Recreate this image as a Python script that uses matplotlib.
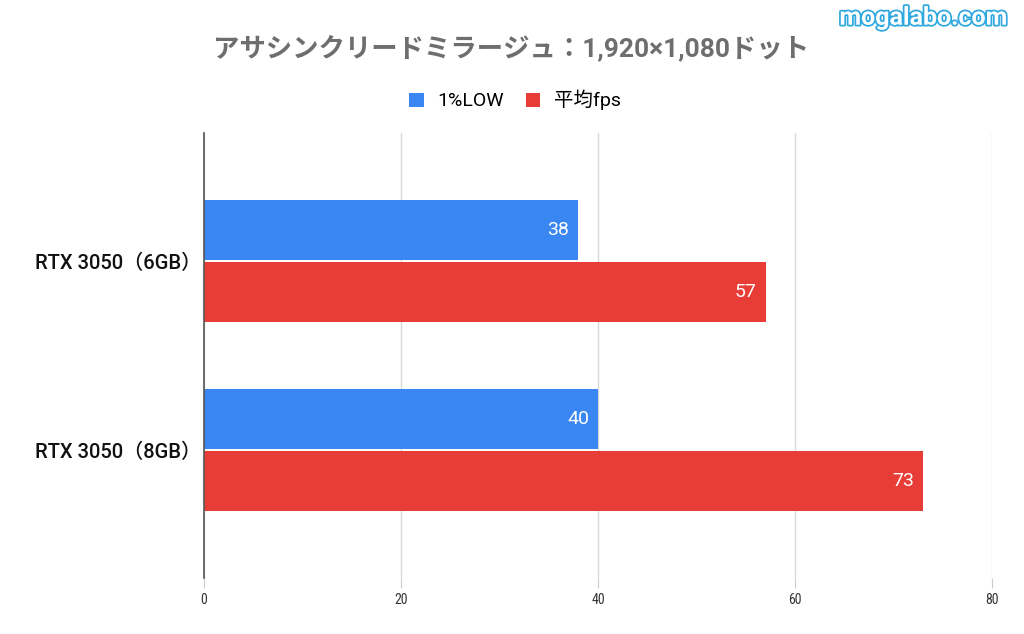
import matplotlib
matplotlib.use("Agg")
import matplotlib.pyplot as plt
import matplotlib.patheffects as pe
import numpy as np

plt.rcParams['font.family'] = ['Roboto', 'Noto Sans CJK JP', 'DejaVu Sans']

categories = ["RTX 3050（6GB）", "RTX 3050（8GB）"]
series_names = ["1%LOW", "平均fps"]
low_values = [38, 40]
avg_values = [57, 73]
xticks = [0, 20, 40, 60, 80]
colors = ["#3a86f2", "#e83d36"]

fig = plt.figure(figsize=(10.24, 6.34), dpi=100)
ax = fig.add_axes([0.199, 0.088, 0.770, 0.702])

y = np.arange(len(categories))
h = 0.317
off = 0.164
b1 = ax.barh(y - off, low_values, height=h, color=colors[0], label=series_names[0])
b2 = ax.barh(y + off, avg_values, height=h, color=colors[1], label=series_names[1])

for bars in (b1, b2):
    for rect in bars:
        w = rect.get_width()
        ax.text(w - 0.9, rect.get_y() + rect.get_height() / 2, f"{int(w)}",
                ha='right', va='center', color='white', fontsize=14)

ax.set_ylim(1.677, -0.677)
ax.set_xlim(0, 80)
ax.set_yticks(y)
ax.set_yticklabels(categories, fontsize=14.5, color='#111111', fontweight='medium')
ax.set_xticks(xticks)
ax.set_xticklabels([str(t) for t in xticks], fontsize=10, color='#333333',
                   family=['Roboto Condensed', 'Liberation Sans Narrow', 'DejaVu Sans'])
ax.tick_params(axis='y', length=0, pad=2)
ax.tick_params(axis='x', length=7, color='#cccccc', pad=4)
ax.grid(axis='x', color='#d9d9d9', linewidth=1)
ax.set_axisbelow(True)
for s in ['top', 'right', 'bottom']:
    ax.spines[s].set_visible(False)
ax.spines['left'].set_color('#555555')
ax.spines['left'].set_linewidth(1.2)

fig.text(0.499, 0.925, "アサシンクリードミラージュ：1,920×1,080ドット", ha='center', va='center',
         fontsize=19, color='#6e6e6e', fontweight='bold')

fig.legend(handles=[b1, b2], labels=series_names, loc='center', bbox_to_anchor=(0.503, 0.842),
           ncol=2, frameon=False, fontsize=14, handlelength=0.75, handleheight=0.75,
           handletextpad=0.7, columnspacing=1.1)

fig.text(0.902, 0.972, "mogalabo.com", ha='center', va='center', fontsize=18, color='white',
         fontweight='bold',
         path_effects=[pe.Stroke(linewidth=2.5, foreground='#2fa8e0'), pe.Normal()])

fig.savefig("out.png", dpi=100)
